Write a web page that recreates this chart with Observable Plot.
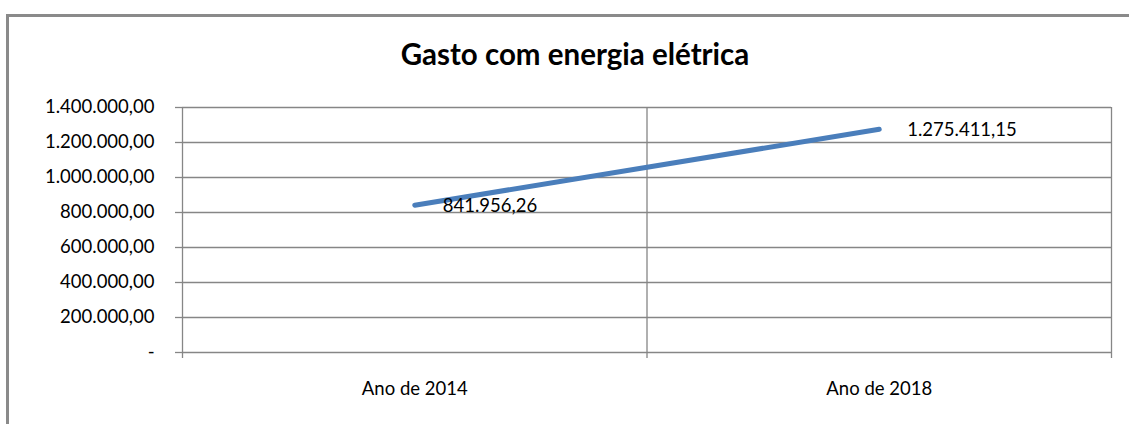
<!DOCTYPE html>
<html>
<head>
<meta charset="utf-8">
<script src="https://cdn.jsdelivr.net/npm/d3@7"></script>
<script src="https://cdn.jsdelivr.net/npm/@observablehq/plot@0.6"></script>
<style>
  html, body { margin: 0; padding: 0; background: #fff; }
  #wrap { position: relative; width: 1129px; height: 424px; overflow: hidden; font-family: Lato, "Open Sans", sans-serif; }
  #frame { position: absolute; left: 6px; top: 14px; width: 1200px; height: 500px; border-left: 3px solid #8a8a8a; border-top: 3px solid #8a8a8a; box-sizing: border-box; }
  #title { position: absolute; left: 0; width: 1150px; top: 36px; text-align: center; font-weight: bold; font-size: 29.5px; color: #000; }
  #chart { position: absolute; left: 0; top: 0; width: 1129px; height: 424px; }
  #chart svg { display: block; }
</style>
</head>
<body>
<div id="wrap">
  <div id="frame"></div>
  <div id="chart"></div>
  <div id="title">Gasto com energia elétrica</div>
</div>
<script>
const categories = ["Ano de 2014", "Ano de 2018"];
const values = [841956.26, 1275411.15];
const valueLabels = ["841.956,26", "1.275.411,15"];
const yTicks = [0, 200000, 400000, 600000, 800000, 1000000, 1200000, 1400000];
const yTickLabels = ["-", "200.000,00", "400.000,00", "600.000,00", "800.000,00", "1.000.000,00", "1.200.000,00", "1.400.000,00"];

const data = categories.map((c, i) => ({cat: c, pos: i + 0.5, value: values[i], label: valueLabels[i]}));
const boundaries = d3.range(categories.length + 1);
const gridColor = "#868686";
const fs = 18.5;

const chart = Plot.plot({
  width: 1129,
  height: 424,
  marginLeft: 182,
  marginRight: 18,
  marginTop: 107,
  marginBottom: 72,
  style: {fontFamily: "Lato, 'Open Sans', sans-serif", background: "transparent", color: "#000", overflow: "visible"},
  x: {type: "linear", domain: [0, categories.length], axis: null, label: null},
  y: {type: "linear", domain: [0, 1400000], axis: null, label: null},
  marks: [
    Plot.ruleY(yTicks, {x1: 0, x2: categories.length, stroke: gridColor, strokeWidth: 1.3}),
    Plot.axisY(yTicks, {anchor: "left", tickSize: 7, tickFormat: () => "", stroke: gridColor, strokeWidth: 1.3, label: null}),
    Plot.ruleX(boundaries, {y1: 0, y2: 1400000, stroke: gridColor, strokeWidth: 1.3}),
    Plot.text(yTicks, {x: 0, y: d => d, text: (d, i) => yTickLabels[i], textAnchor: "end", dx: -28, fontSize: fs, fill: "#000"}),
    Plot.axisX(boundaries, {anchor: "bottom", tickSize: 6, tickFormat: () => "", stroke: gridColor, strokeWidth: 1.3, label: null}),
    Plot.text(data, {x: "pos", y: 0, text: "cat", dy: 37, fontSize: fs, fill: "#000"}),
    Plot.line(data, {x: "pos", y: "value", stroke: "#4A7EBB", strokeWidth: 5, strokeLinecap: "round"}),
    Plot.text(data, {x: "pos", y: "value", text: "label", textAnchor: "start", dx: 28, dy: 1, fontSize: fs, fill: "#000"})
  ]
});
document.getElementById("chart").appendChild(chart);
</script>
</body>
</html>
